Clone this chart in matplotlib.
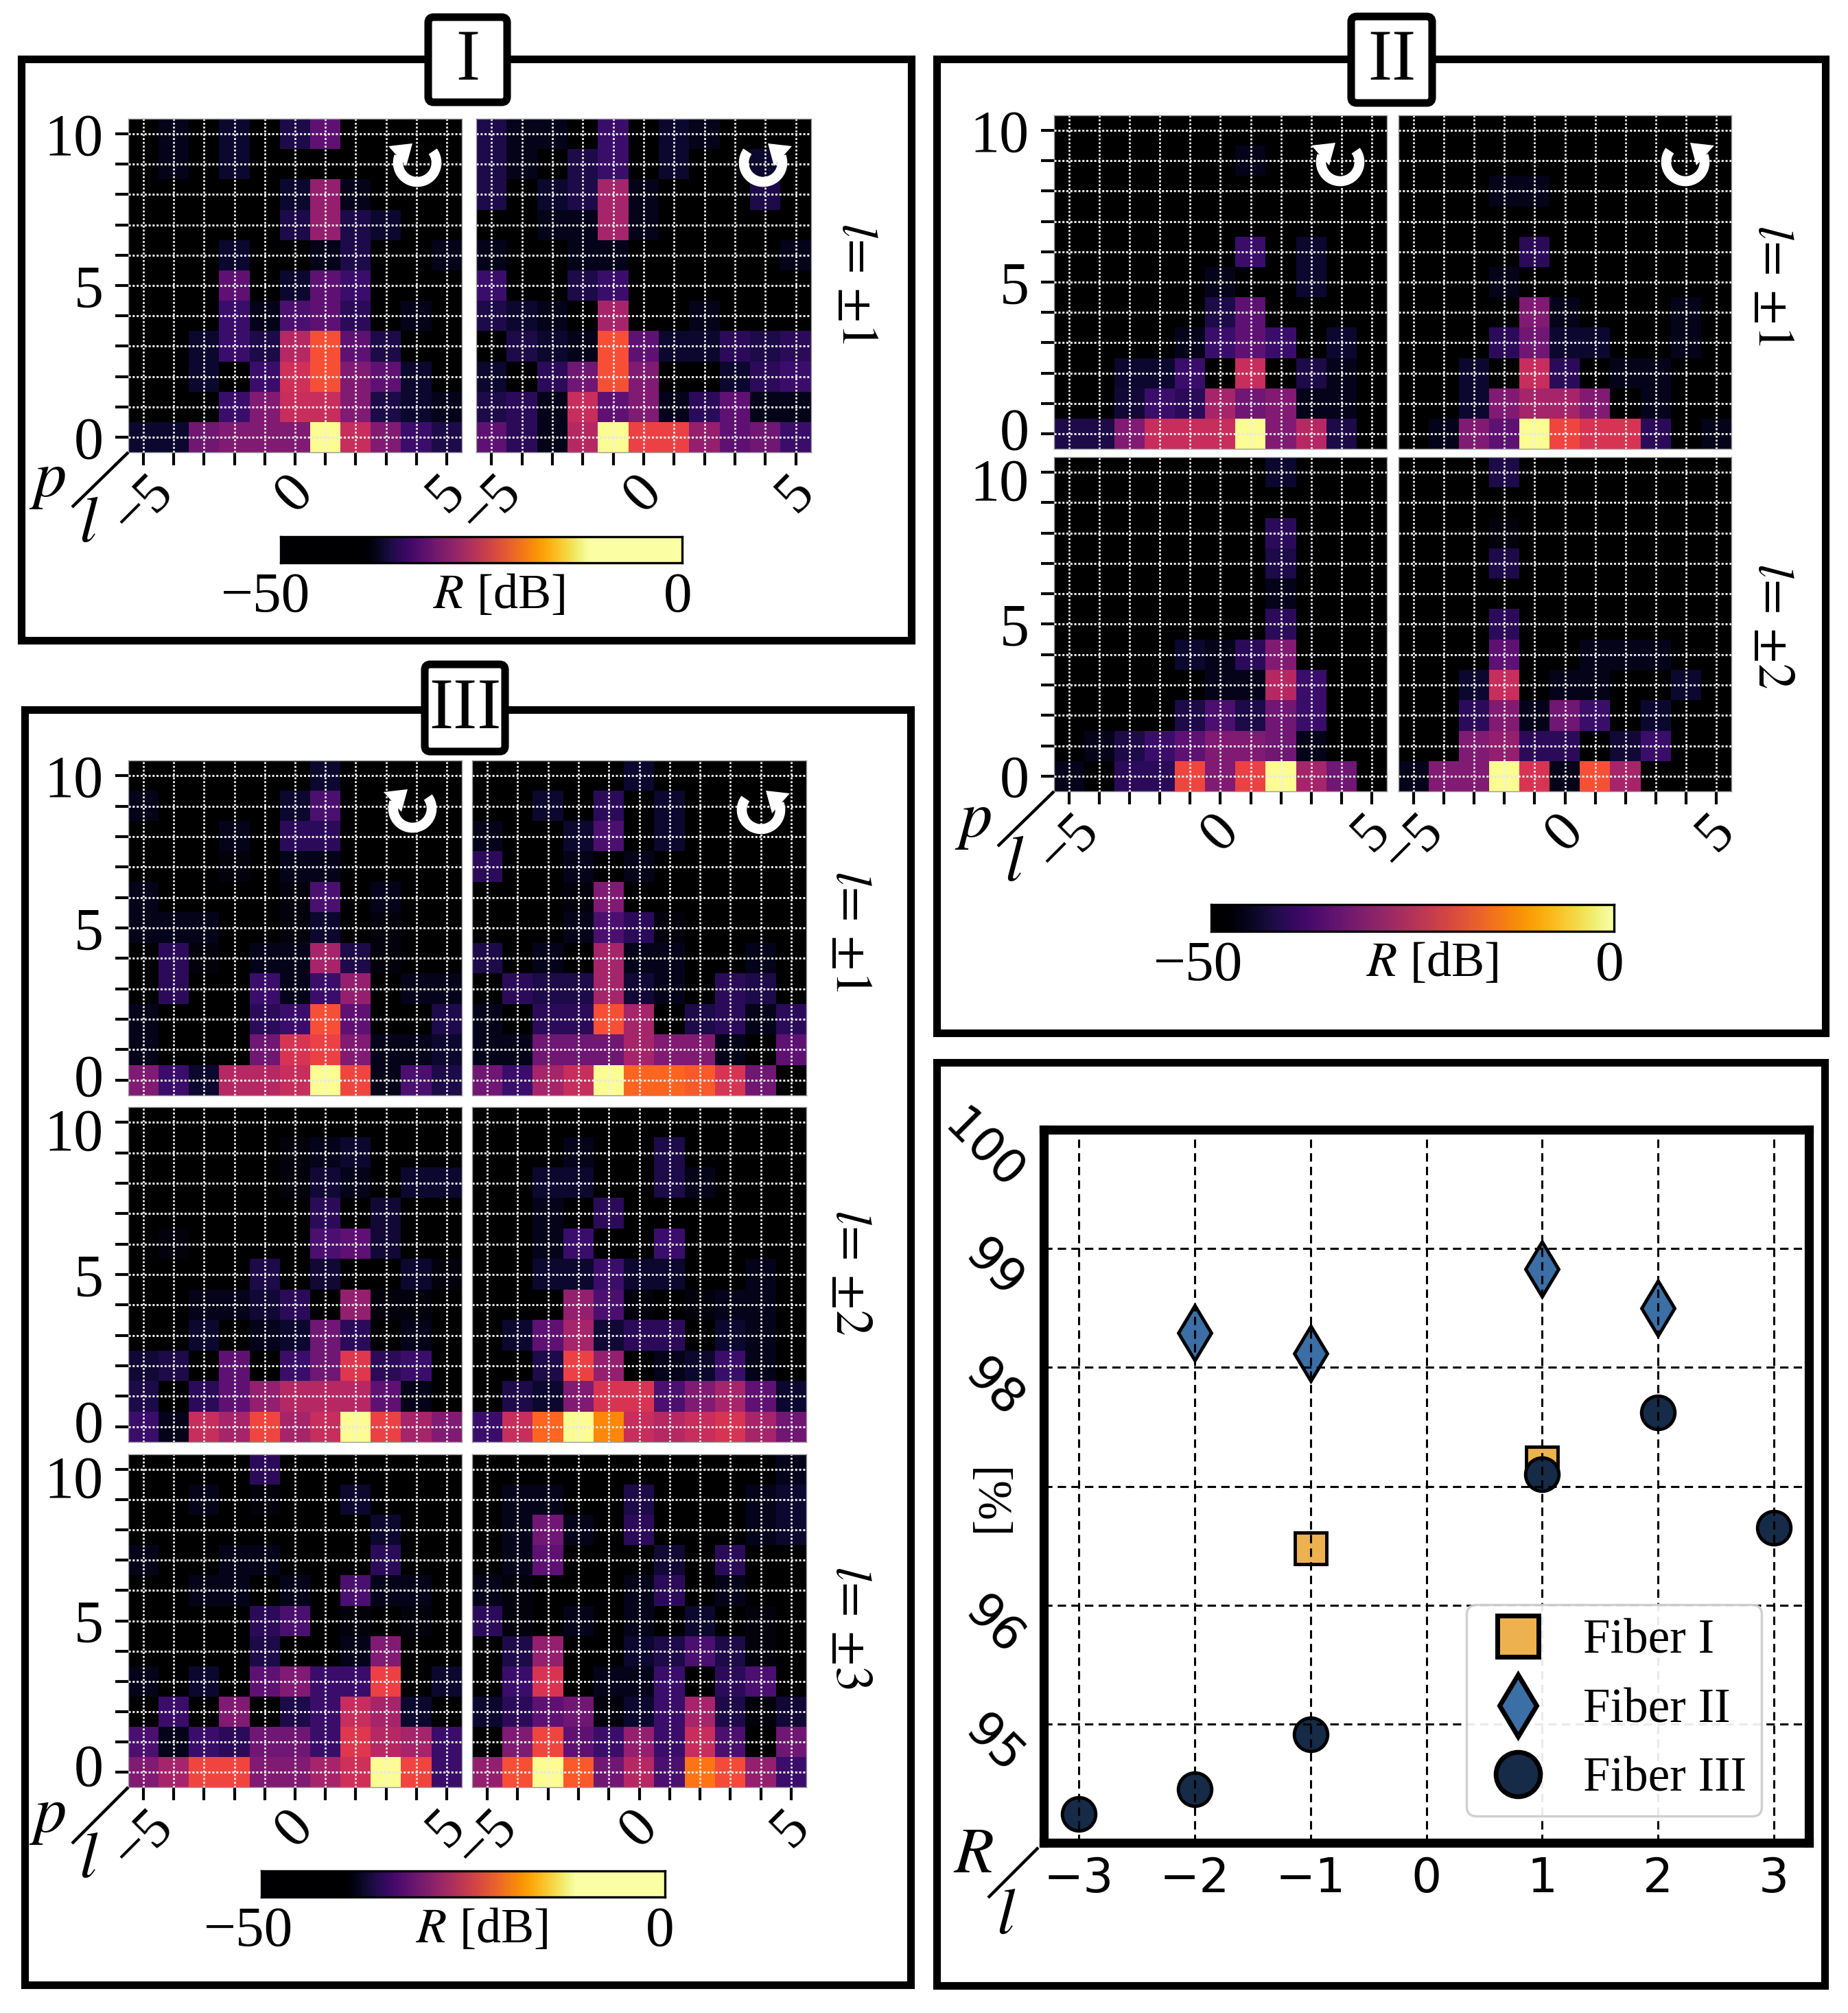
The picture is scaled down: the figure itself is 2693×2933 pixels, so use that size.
"""Mode purity maps and reflectivity for three fibers."""

import numpy as np
import matplotlib
matplotlib.use('Agg')
import matplotlib.pyplot as plt
from matplotlib.colors import LinearSegmentedColormap, Normalize
from matplotlib.patches import FancyBboxPatch, Polygon, Rectangle
from matplotlib.transforms import ScaledTranslation

plt.rcParams['font.family'] = ['Liberation Serif', 'DejaVu Sans']
plt.rcParams['mathtext.fontset'] = 'stix'

W, H = 2693, 2933

# attenuation in dB (R = -value), rows go from p=10 down to p=0, columns l=-5..5
F1_P1_CW = [
    [50, 46, 50, 43, 50, 40, 32, 50, 50, 50, 50],
    [50, 46, 50, 43, 50, 50, 50, 50, 50, 50, 50],
    [50, 50, 50, 50, 50, 43, 26, 46, 50, 50, 50],
    [50, 50, 50, 50, 50, 40, 26, 40, 43, 50, 50],
    [50, 50, 50, 43, 50, 50, 46, 40, 50, 50, 46],
    [50, 50, 50, 32, 50, 43, 32, 36, 50, 50, 50],
    [50, 50, 50, 36, 46, 34, 32, 38, 50, 46, 50],
    [50, 50, 43, 36, 40, 22, 12, 32, 40, 50, 50],
    [50, 50, 43, 50, 36, 19, 12, 28, 32, 43, 50],
    [50, 50, 50, 36, 28, 20, 20, 28, 40, 43, 46],
    [43, 43, 30, 28, 28, 28, 0, 20, 28, 36, 40],
]
F1_P1_CCW = [
    [40, 46, 46, 50, 36, 50, 43, 46, 50, 50, 50],
    [40, 46, 50, 40, 36, 50, 43, 50, 50, 43, 50],
    [40, 50, 43, 40, 24, 46, 50, 50, 50, 40, 50],
    [50, 50, 46, 46, 24, 46, 50, 50, 50, 50, 50],
    [46, 50, 50, 46, 46, 50, 50, 50, 50, 50, 46],
    [36, 50, 50, 40, 36, 50, 50, 50, 50, 50, 50],
    [40, 43, 46, 50, 24, 50, 50, 46, 50, 50, 50],
    [50, 40, 43, 46, 12, 32, 43, 43, 38, 40, 38],
    [43, 50, 38, 30, 12, 28, 50, 50, 43, 38, 36],
    [40, 38, 46, 20, 32, 28, 46, 38, 32, 46, 46],
    [32, 38, 46, 22, 0, 15, 15, 26, 32, 30, 36],
]

F2_P1_CW = [
    [50, 50, 50, 50, 50, 50, 50, 50, 50, 50, 50],
    [50, 50, 50, 50, 50, 50, 46, 50, 50, 50, 50],
    [50, 50, 50, 50, 50, 50, 50, 50, 50, 50, 50],
    [50, 50, 50, 50, 50, 50, 50, 50, 50, 50, 50],
    [50, 50, 50, 50, 50, 50, 36, 50, 43, 50, 50],
    [50, 50, 50, 50, 50, 46, 50, 50, 43, 50, 50],
    [50, 50, 50, 50, 50, 40, 32, 50, 50, 50, 50],
    [50, 50, 50, 50, 46, 36, 32, 36, 50, 43, 50],
    [50, 50, 43, 43, 36, 50, 20, 50, 40, 46, 50],
    [50, 50, 42, 36, 38, 24, 30, 28, 46, 46, 50],
    [40, 40, 28, 20, 20, 20, 0, 28, 22, 40, 50],
]
F2_P1_CCW = [
    [50, 50, 50, 50, 50, 50, 50, 50, 50, 50, 50],
    [50, 50, 50, 50, 50, 50, 50, 50, 50, 50, 50],
    [50, 50, 50, 46, 46, 50, 50, 50, 50, 50, 50],
    [50, 50, 50, 50, 50, 50, 50, 50, 50, 50, 50],
    [50, 50, 50, 50, 38, 50, 50, 50, 50, 50, 50],
    [50, 50, 50, 46, 50, 50, 50, 50, 50, 50, 50],
    [50, 50, 50, 50, 28, 46, 50, 50, 50, 46, 50],
    [50, 50, 50, 38, 30, 43, 43, 50, 50, 46, 50],
    [50, 50, 43, 50, 20, 38, 50, 46, 46, 50, 50],
    [50, 50, 43, 28, 24, 24, 28, 50, 46, 50, 50],
    [50, 46, 28, 32, 0, 14, 18, 18, 38, 50, 46],
]
F2_P2_CW = [
    [50, 50, 50, 50, 50, 50, 50, 43, 50, 50, 50],
    [50, 50, 50, 50, 50, 50, 50, 50, 50, 50, 50],
    [50, 50, 50, 50, 50, 50, 50, 38, 50, 50, 50],
    [50, 50, 50, 50, 50, 50, 50, 40, 50, 50, 50],
    [50, 50, 50, 50, 50, 50, 50, 46, 50, 50, 50],
    [50, 50, 50, 50, 50, 50, 50, 38, 50, 50, 50],
    [50, 50, 50, 50, 43, 46, 38, 28, 50, 50, 50],
    [50, 50, 50, 50, 50, 46, 46, 22, 36, 50, 50],
    [50, 50, 50, 50, 40, 34, 40, 30, 36, 50, 50],
    [50, 46, 40, 36, 32, 28, 28, 30, 46, 50, 50],
    [46, 50, 38, 38, 14, 28, 15, 0, 24, 30, 50],
]
F2_P2_CCW = [
    [50, 50, 50, 40, 50, 50, 50, 50, 50, 50, 50],
    [50, 50, 50, 50, 50, 50, 50, 50, 50, 50, 50],
    [50, 50, 50, 48, 50, 50, 50, 50, 50, 50, 50],
    [50, 50, 50, 40, 50, 50, 50, 50, 50, 50, 50],
    [50, 50, 50, 50, 50, 50, 50, 50, 50, 50, 50],
    [50, 50, 50, 38, 50, 50, 50, 50, 50, 50, 50],
    [50, 50, 50, 32, 50, 50, 46, 46, 46, 50, 50],
    [50, 50, 43, 20, 50, 46, 46, 50, 50, 43, 50],
    [50, 50, 38, 28, 46, 30, 36, 50, 43, 50, 50],
    [50, 50, 28, 26, 38, 38, 50, 42, 36, 50, 50],
    [46, 28, 28, 0, 18, 46, 12, 24, 50, 50, 50],
]

F3_P1_CW = [
    [50, 50, 50, 50, 50, 50, 43, 50, 50, 50, 50],
    [46, 50, 50, 50, 50, 43, 34, 50, 50, 50, 50],
    [50, 50, 50, 46, 50, 38, 38, 50, 50, 50, 50],
    [50, 50, 50, 48, 50, 46, 46, 50, 50, 50, 50],
    [46, 50, 50, 50, 50, 48, 34, 50, 46, 50, 50],
    [46, 46, 46, 50, 50, 48, 43, 50, 48, 50, 50],
    [50, 38, 48, 50, 46, 46, 24, 40, 48, 50, 50],
    [50, 38, 50, 50, 36, 46, 36, 26, 50, 46, 46],
    [46, 50, 50, 50, 38, 36, 12, 32, 50, 50, 40],
    [46, 50, 50, 50, 30, 18, 15, 28, 46, 46, 43],
    [28, 36, 43, 22, 22, 20, 0, 14, 46, 34, 40],
]
F3_P1_CCW = [
    [50, 50, 50, 50, 50, 43, 50, 50, 50, 50, 50],
    [50, 50, 43, 50, 38, 50, 43, 50, 50, 50, 50],
    [46, 50, 50, 43, 34, 50, 43, 50, 50, 50, 50],
    [38, 50, 50, 46, 50, 46, 50, 50, 50, 50, 50],
    [50, 50, 50, 48, 28, 50, 50, 50, 50, 50, 50],
    [50, 50, 50, 46, 34, 38, 48, 50, 50, 50, 50],
    [40, 50, 46, 50, 24, 46, 46, 50, 50, 46, 50],
    [50, 38, 40, 40, 24, 42, 46, 50, 38, 40, 50],
    [46, 50, 38, 38, 12, 24, 50, 40, 38, 46, 38],
    [46, 46, 30, 30, 30, 24, 28, 28, 46, 50, 32],
    [30, 36, 24, 20, 0, 10, 10, 11, 18, 30, 50],
]
F3_P2_CW = [
    [50, 50, 50, 50, 50, 50, 50, 50, 50, 50, 50],
    [50, 50, 50, 50, 50, 48, 46, 43, 50, 50, 50],
    [50, 50, 50, 50, 50, 48, 42, 46, 50, 43, 43],
    [50, 50, 50, 50, 50, 50, 38, 50, 42, 50, 50],
    [50, 48, 50, 50, 50, 50, 34, 32, 42, 50, 50],
    [50, 50, 50, 50, 40, 50, 42, 50, 50, 43, 48],
    [50, 50, 46, 46, 42, 38, 50, 26, 48, 48, 50],
    [50, 50, 43, 50, 46, 43, 30, 38, 50, 46, 50],
    [42, 40, 50, 32, 50, 36, 30, 17, 38, 36, 50],
    [40, 50, 38, 32, 26, 22, 22, 22, 32, 46, 50],
    [36, 46, 20, 24, 14, 24, 20, 0, 15, 24, 28],
]
F3_P2_CCW = [
    [50, 50, 50, 50, 50, 50, 50, 50, 50, 50, 50],
    [50, 50, 50, 46, 50, 50, 40, 50, 50, 50, 50],
    [50, 50, 43, 43, 50, 50, 40, 46, 50, 50, 50],
    [50, 50, 46, 50, 38, 50, 50, 50, 50, 50, 50],
    [50, 50, 46, 36, 50, 50, 36, 50, 50, 50, 50],
    [50, 50, 43, 43, 36, 43, 43, 50, 50, 46, 50],
    [50, 50, 50, 26, 34, 48, 50, 48, 46, 46, 50],
    [50, 43, 32, 24, 42, 38, 38, 50, 43, 46, 50],
    [50, 50, 40, 15, 26, 50, 46, 43, 36, 46, 50],
    [50, 40, 43, 28, 18, 18, 34, 28, 24, 32, 43],
    [36, 20, 10, 0, 8, 20, 22, 20, 18, 24, 30],
]
F3_P3_CW = [
    [50, 50, 50, 50, 38, 50, 50, 50, 50, 50, 50],
    [50, 50, 46, 50, 48, 50, 50, 43, 50, 50, 50],
    [50, 50, 50, 50, 50, 50, 50, 50, 43, 50, 50],
    [46, 50, 50, 46, 46, 50, 50, 50, 38, 50, 50],
    [50, 50, 46, 46, 50, 46, 50, 34, 46, 46, 50],
    [50, 50, 50, 50, 38, 34, 50, 48, 50, 48, 50],
    [50, 50, 50, 50, 40, 50, 50, 46, 28, 50, 50],
    [46, 50, 43, 50, 32, 28, 36, 36, 15, 50, 43],
    [50, 36, 50, 28, 50, 40, 36, 20, 24, 43, 50],
    [34, 46, 36, 38, 30, 30, 36, 17, 22, 24, 36],
    [28, 24, 14, 14, 28, 28, 24, 19, 0, 14, 36],
]
F3_P3_CCW = [
    [50, 50, 50, 50, 50, 50, 50, 50, 50, 50, 46],
    [50, 46, 46, 50, 50, 40, 50, 50, 50, 46, 43],
    [50, 46, 30, 46, 50, 38, 50, 50, 50, 46, 43],
    [50, 46, 32, 50, 50, 50, 42, 50, 38, 50, 50],
    [46, 48, 50, 50, 50, 46, 38, 50, 46, 50, 50],
    [38, 48, 50, 46, 50, 46, 50, 43, 50, 48, 50],
    [50, 40, 26, 50, 50, 43, 40, 34, 40, 48, 50],
    [50, 36, 18, 50, 46, 46, 36, 50, 38, 34, 50],
    [43, 38, 32, 30, 48, 43, 36, 24, 40, 48, 42],
    [50, 28, 14, 32, 36, 26, 36, 20, 34, 50, 30],
    [26, 12, 0, 11, 30, 22, 34, 9, 13, 26, 36],
]

# reflectivity scatter panel
L_FIBER_I = [-1, 1]
R_FIBER_I = [96.48, 97.2]
L_FIBER_II = [-2, -1, 1, 2]
R_FIBER_II = [98.29, 98.12, 98.83, 98.50]
L_FIBER_III = [-3, -2, -1, 1, 2, 3]
R_FIBER_III = [94.24, 94.45, 94.91, 97.10, 97.62, 96.65]

L_TICKS = [-5, -4, -3, -2, -1, 0, 1, 2, 3, 4, 5]
P_TICKS = [0, 1, 2, 3, 4, 5, 6, 7, 8, 9, 10]

# cell colours, brighter than plain inferno in the source figure
CELL_CMAP = LinearSegmentedColormap.from_list("cells", [
    (0.00, "#000000"), (0.08, "#05041a"), (0.14, "#0d0830"), (0.20, "#1d0a48"),
    (0.28, "#3b0e6c"), (0.36, "#5e1174"), (0.44, "#821b72"), (0.52, "#a6246a"),
    (0.60, "#c72d5d"), (0.66, "#e0384e"), (0.72, "#f04540"), (0.76, "#f74f36"),
    (0.80, "#ff6420"), (0.86, "#ff9500"), (0.92, "#fdc00a"), (1.00, "#fbfc92"),
])


def px_axes(fig, x0, y0, x1, y1, **kw):
    return fig.add_axes([x0 / W, 1 - y1 / H, (x1 - x0) / W, (y1 - y0) / H], **kw)


def heatmap(fig, box, values, left=False, bottom=False, drop_10=0, lift_0=0):
    ax = px_axes(fig, *box)
    ax.imshow(-np.array(values)[::-1], origin="lower", aspect="auto", cmap=CELL_CMAP,
              vmin=-50, vmax=0, extent=(-5.5, 5.5, -0.5, 10.5), interpolation="nearest")
    ax.set_xticks(L_TICKS)
    ax.set_yticks(P_TICKS)
    ax.grid(True, axis="y", color="#e8e8e8", lw=2.2, ls=(0, (1, 0.9)))
    ax.grid(True, axis="x", color="#f0f0f0", lw=2.0, ls=(0, (1, 1)))
    ax.set_xticklabels(["\u22125", "", "", "", "", "0", "", "", "", "", "5"] if bottom else [])
    ax.set_yticklabels(["0", "", "", "", "", "5", "", "", "", "", "10"] if left else [])
    ax.tick_params(axis="x", length=14 if bottom else 0, width=3, labelsize=60, pad=0,
                   labelrotation=45)
    ax.tick_params(axis="y", length=14 if left else 0, width=3, labelsize=62, pad=12)
    if left:
        # stacked panels keep their 0 and 10 labels apart
        labs = ax.get_yticklabels()
        labs[0].set_transform(labs[0].get_transform() + ScaledTranslation(0, lift_0 / 100, fig.dpi_scale_trans))
        labs[10].set_transform(labs[10].get_transform() + ScaledTranslation(0, -drop_10 / 100, fig.dpi_scale_trans))
    for s in ax.spines.values():
        s.set_color("#9a9a9a")
        s.set_linewidth(1.0)
    return ax


def colorbar(fig, box, cmap, vmin, vmax):
    ax = px_axes(fig, *box)
    ax.imshow(np.linspace(-50, 0, 512)[None, :], aspect="auto", cmap=cmap,
              norm=Normalize(vmin, vmax))
    ax.set_xticks([])
    ax.set_yticks([])
    for s in ax.spines.values():
        s.set_linewidth(2.4)


def frame(ov, x0, y0, x1, y1, box_x0, box_y0, box_x1, box_y1, name):
    ov.add_patch(Rectangle((x0, y0), x1 - x0, y1 - y0, fill=False, ec="black", lw=8))
    if name:
        ov.add_patch(FancyBboxPatch((box_x0 + 6, box_y0 + 6), box_x1 - box_x0 - 12, box_y1 - box_y0 - 12,
                                    boxstyle="round,pad=0,rounding_size=8", fc="white", ec="black", lw=8))
        ov.text((box_x0 + box_x1) / 2, (box_y0 + box_y1) / 2 + 4, name, fontsize=76, ha="center", va="center")


def corner(ov, x0, y0, x1, y1, top, px, py, qx, qy):
    ov.plot([x0, x1], [y0, y1], color="black", lw=3.2, solid_capstyle="butt")
    ov.text(px, py, f"${top}$", fontsize=68, ha="center", va="center")
    ov.text(qx, qy, "$l$", fontsize=68, ha="center", va="center")


def spin_icon(ov, cx, cy, mirror=False):
    sign = -1 if mirror else 1
    ang = np.radians(np.linspace(-36, 200, 60))
    # gap at the top, pixel y grows downwards
    xs = cx + sign * 28 * np.cos(ang)
    ys = cy + 28 * np.sin(ang)
    ov.plot(xs, ys, color="white", lw=10.5, solid_capstyle="butt")
    ov.add_patch(Polygon([(cx - sign * 42, cy - 24), (cx - sign * 7, cy - 28), (cx - sign * 16, cy + 5)],
                         closed=True, fc="white", ec="none"))


def side_label(ov, x, y, n):
    ov.text(x, y, rf"$\mathit{{l}}\!=\,{{\pm}}\mathit{{{n}}}$", fontsize=54, rotation=270,
            ha="center", va="center")


def cbar_text(ov, x_low, x_mid, x_high, y):
    ov.text(x_low, y, "\u221250", fontsize=60, ha="center", va="center")
    ov.text(x_mid, y - 3, r"$R$ [dB]", fontsize=52, ha="center", va="center")
    ov.text(x_high, y, "0", fontsize=60, ha="center", va="center")


fig = plt.figure(figsize=(W / 100, H / 100), dpi=100, facecolor="white")

# Fiber I
heatmap(fig, (187, 173, 673, 659), F1_P1_CW, left=True, bottom=True)
heatmap(fig, (694, 173, 1182, 659), F1_P1_CCW, bottom=True)
colorbar(fig, (409, 782, 994, 820), "inferno", -39.5, -11.5)

# Fiber II
heatmap(fig, (1536, 168, 2021, 654), F2_P1_CW, left=True, lift_0=8)
heatmap(fig, (2038, 168, 2523, 654), F2_P1_CCW)
heatmap(fig, (1536, 666, 2021, 1153), F2_P2_CW, left=True, bottom=True, drop_10=10)
heatmap(fig, (2038, 666, 2523, 1153), F2_P2_CCW, bottom=True)
colorbar(fig, (1765, 1318, 2352, 1357), "inferno", -48, 0)

# Fiber III
heatmap(fig, (187, 1108, 673, 1596), F3_P1_CW, left=True, lift_0=7)
heatmap(fig, (688, 1108, 1175, 1596), F3_P1_CCW)
heatmap(fig, (187, 1613, 673, 2101), F3_P2_CW, left=True, drop_10=10, lift_0=8)
heatmap(fig, (688, 1613, 1175, 2101), F3_P2_CCW)
heatmap(fig, (187, 2119, 673, 2604), F3_P3_CW, left=True, bottom=True, drop_10=10, lift_0=11)
heatmap(fig, (688, 2119, 1175, 2604), F3_P3_CCW, bottom=True)
colorbar(fig, (381, 2726, 969, 2764), "inferno", -39.5, -11)

# reflectivity
ax = px_axes(fig, 1521, 1646, 2636, 2685)
ax.plot(L_FIBER_I, R_FIBER_I, ls="none", marker="s", ms=33, mfc="#EDB14F", mec="black", mew=3.5, label="Fiber I")
ax.plot(L_FIBER_II, R_FIBER_II, ls="none", marker="d", ms=41, mfc="#3B6FA5", mec="black", mew=3.5, label="Fiber II")
ax.plot(L_FIBER_III, R_FIBER_III, ls="none", marker="o", ms=35, mfc="#152B47", mec="black", mew=3.5, label="Fiber III")
ax.set_xlim(-3.3, 3.3)
ax.set_ylim(94, 100)
ax.set_xticks([-3, -2, -1, 0, 1, 2, 3])
ax.set_yticks([95, 96, 97, 98, 99, 100])
ax.set_yticklabels(["95", "96", "", "98", "99", "100"], family="DejaVu Sans", rotation=-45, va="center")
ax.set_xticklabels(["\u22123", "\u22122", "\u22121", "0", "1", "2", "3"], family="DejaVu Sans")
ax.tick_params(axis="x", length=0, labelsize=50, pad=14)
ax.tick_params(axis="y", length=0, labelsize=50, pad=13)
shift = ScaledTranslation(0, -30 / 100, fig.dpi_scale_trans)
for lab in ax.get_yticklabels():
    lab.set_transform(lab.get_transform() + shift)
ax.set_axisbelow(False)
ax.grid(True, color="black", lw=2.2, ls=(0, (4, 2.5)))
for s in ax.spines.values():
    s.set_linewidth(9.5)
leg = ax.legend(loc="lower right", bbox_to_anchor=(0.938, 0.0375), borderaxespad=0, markerscale=1.33,
                fontsize=51, handlelength=1.5, handletextpad=0.6, labelspacing=0.5, borderpad=0.3,
                framealpha=0.92, edgecolor="#cccccc", fancybox=True)
leg.get_frame().set_linewidth(2.5)
leg.set_zorder(6)
for handle in leg.legend_handles:
    handle.set_markeredgewidth(5)
leg.legend_handles[1].set_markersize(46)

# overlay in pixel coordinates for frames and labels
ov = fig.add_axes([0, 0, 1, 1], zorder=10)
ov.set_xlim(0, W)
ov.set_ylim(H, 0)
ov.axis("off")

frame(ov, 31, 86, 1328, 933, 618, 19, 745, 155, "I")
frame(ov, 1365, 86, 2660, 1505, 1963, 18, 2093, 156, "II")
frame(ov, 36, 1034, 1327, 2892, 613, 962, 742, 1101, "III")
frame(ov, 1365, 1548, 2659, 2893, 0, 0, 0, 0, "")

corner(ov, 187, 659, 105, 739, "p", 69, 702, 129, 767)
corner(ov, 1536, 1153, 1454, 1233, "p", 1418, 1197, 1478, 1261)
corner(ov, 187, 2604, 105, 2686, "p", 69, 2648, 129, 2713)
corner(ov, 1513, 2692, 1440, 2765, "R", 1418, 2706, 1466, 2794)

cbar_text(ov, 387, 727, 988, 871)
cbar_text(ov, 1746, 2087, 2346, 1408)
cbar_text(ov, 362, 702, 962, 2815)

side_label(ov, 1246, 412, 1)
side_label(ov, 2581, 415, 1)
side_label(ov, 2581, 911, 2)
side_label(ov, 1237, 1356, 1)
side_label(ov, 1237, 1853, 2)
side_label(ov, 1237, 2371, 3)

for cx, cy, mirror in [(608, 237, False), (1112, 237, True), (1953, 236, False), (2456, 236, True),
                       (601, 1178, False), (1109, 1180, True)]:
    spin_icon(ov, cx, cy, mirror)

ov.text(1438, 2191, "[%]", fontsize=50, rotation=270, ha="center", va="center")

fig.savefig("out.png", dpi=100)
